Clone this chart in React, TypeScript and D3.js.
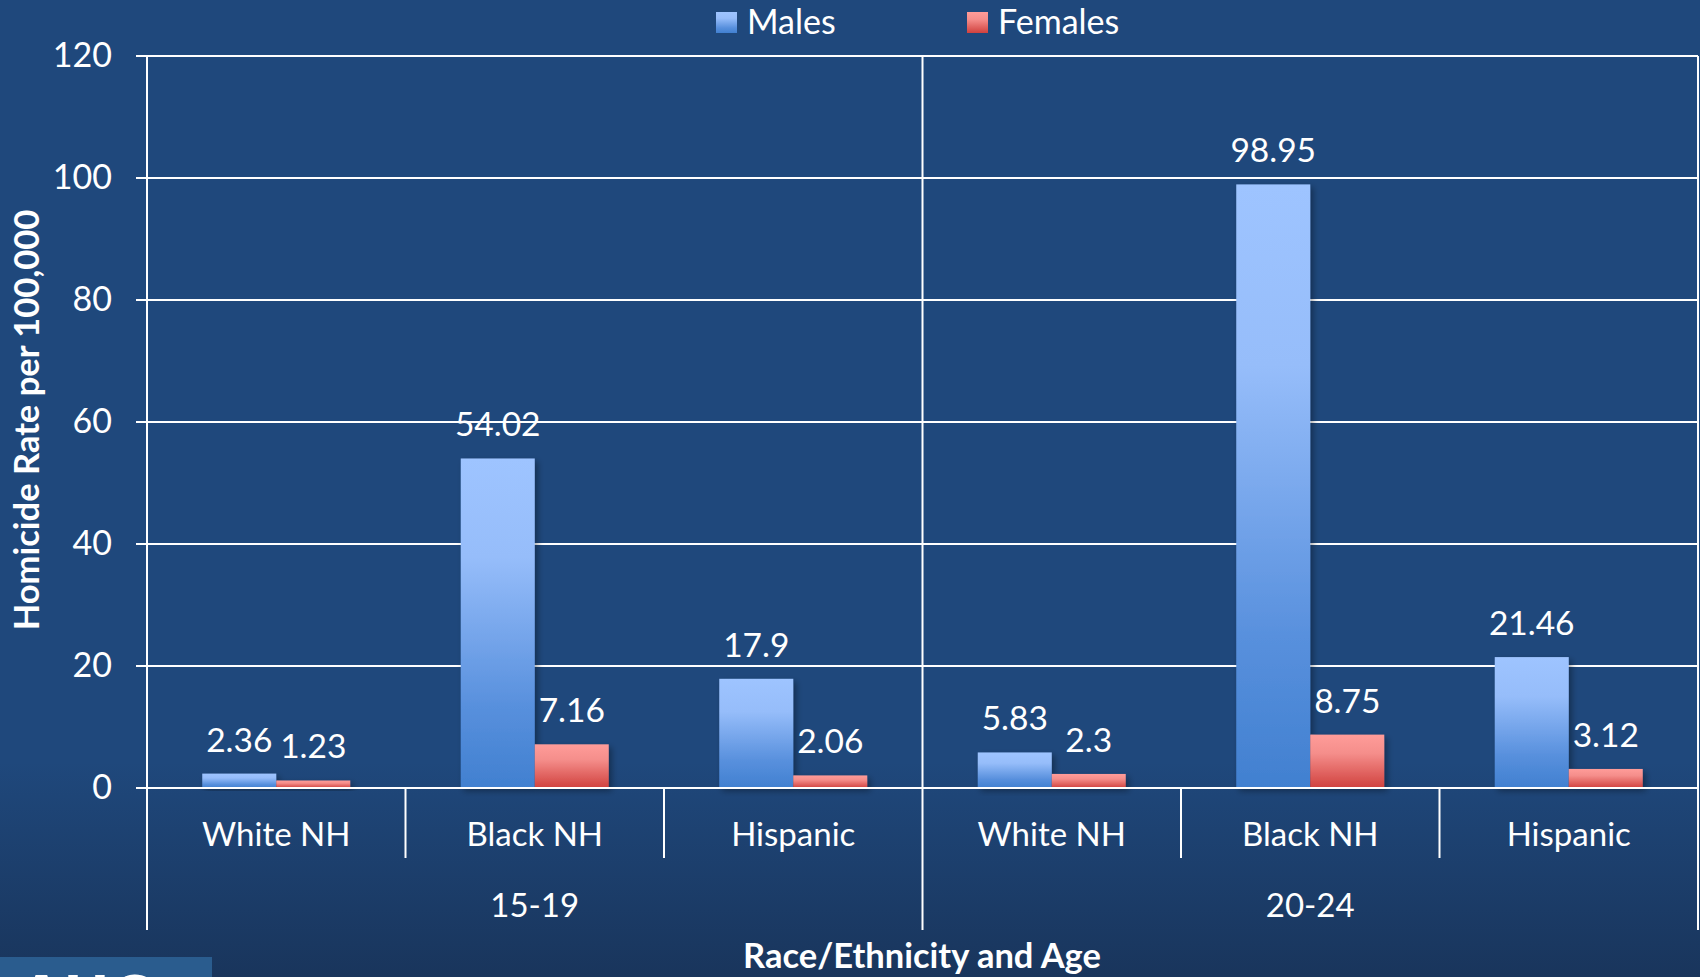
import React from "react";
import * as d3 from "d3";

// Homicide rates per 100,000 by race/ethnicity, age group and sex
const ageGroups = ["15-19", "20-24"];
const races = ["White NH", "Black NH", "Hispanic"];
const males = [2.36, 54.02, 17.9, 5.83, 98.95, 21.46];
const females = [1.23, 7.16, 2.06, 2.3, 8.75, 3.12];
const yTicks = [0, 20, 40, 60, 80, 100, 120];
const seriesNames = ["Males", "Females"];

const W = 1700;
const H = 977;
const plot = { left: 147, right: 1698, top: 56, bottom: 788 };
const FONT = "Lato, 'Open Sans', sans-serif";

export default function App() {
  const categories = ageGroups.flatMap((a) => races.map((r) => `${a}|${r}`));
  const x = d3
    .scaleBand<string>()
    .domain(categories)
    .range([plot.left, plot.right])
    .paddingInner(0.4275)
    .paddingOuter(0.21375);
  const step = x.step();
  const xs = d3.scaleBand<string>().domain(seriesNames).range([0, x.bandwidth()]);
  const y = d3.scaleLinear().domain([0, 120]).range([plot.bottom, plot.top]);

  const rows = categories.map((c, i) => ({ c, m: males[i], f: females[i] }));
  const boundaries = d3.range(categories.length + 1).map((k) => plot.left + k * step);
  const groupW = step * races.length;

  return (
    <svg
      width={W}
      height={H}
      style={{ position: "fixed", left: 0, top: 0 }}
      fontFamily={FONT}
    >
      <defs>
        <linearGradient id="bg" x1="0" y1="0" x2="0" y2="1">
          <stop offset="0" stopColor="#1F487C" />
          <stop offset="0.78" stopColor="#1F487C" />
          <stop offset="1" stopColor="#19355C" />
        </linearGradient>
        <linearGradient id="gm" x1="0" y1="0" x2="0" y2="1">
          <stop offset="0" stopColor="#9EC4FF" />
          <stop offset="0.3" stopColor="#96BDFA" />
          <stop offset="0.75" stopColor="#5890DD" />
          <stop offset="1" stopColor="#4180D0" />
        </linearGradient>
        <linearGradient id="gf" x1="0" y1="0" x2="0" y2="1">
          <stop offset="0" stopColor="#FF9C99" />
          <stop offset="0.35" stopColor="#F58E8B" />
          <stop offset="1" stopColor="#D0413E" />
        </linearGradient>
        <filter id="sh" x="-20%" y="-20%" width="140%" height="140%">
          <feDropShadow dx="3" dy="3" stdDeviation="3" floodColor="#000" floodOpacity="0.35" />
        </filter>
      </defs>

      <rect x={0} y={0} width={W} height={H} fill="url(#bg)" />

      {/* gridlines and y ticks */}
      {yTicks.map((t) => (
        <g key={t}>
          <line x1={plot.left - 11} x2={plot.right} y1={y(t)} y2={y(t)} stroke="#fff" strokeWidth={2} />
          <text x={112} y={y(t)} dy="0.33em" textAnchor="end" fill="#fff" fontSize={34}>
            {t}
          </text>
        </g>
      ))}

      {/* bars */}
      {rows.map((r) => (
        <g key={r.c} filter="url(#sh)">
          <rect
            x={x(r.c)! + xs("Males")!}
            y={y(r.m)}
            width={xs.bandwidth()}
            height={y(0) - y(r.m)}
            fill="url(#gm)"
          />
          <rect
            x={x(r.c)! + xs("Females")!}
            y={y(r.f)}
            width={xs.bandwidth()}
            height={y(0) - y(r.f)}
            fill="url(#gf)"
          />
        </g>
      ))}

      {/* zero line above bars */}
      <line x1={plot.left - 11} x2={plot.right} y1={y(0)} y2={y(0)} stroke="#fff" strokeWidth={2} />

      {/* value labels */}
      {rows.map((r) => (
        <g key={r.c + "l"} fill="#fff" fontSize={33.5} textAnchor="middle">
          <text x={x(r.c)! + xs("Males")! + xs.bandwidth() / 2} y={y(r.m) - 22}>
            {r.m}
          </text>
          <text x={x(r.c)! + xs("Females")! + xs.bandwidth() / 2} y={y(r.f) - 22}>
            {r.f}
          </text>
        </g>
      ))}

      {/* vertical axis lines and category separators */}
      {boundaries.map((bx, k) => {
        const isGroupEdge = k % races.length === 0;
        return (
          <line
            key={k}
            x1={bx}
            x2={bx}
            y1={isGroupEdge ? plot.top : plot.bottom}
            y2={isGroupEdge ? 930 : 858}
            stroke="#fff"
            strokeWidth={2}
          />
        );
      })}

      {/* category labels */}
      {categories.map((c) => (
        <text
          key={c}
          x={x(c)! + x.bandwidth() / 2}
          y={846}
          textAnchor="middle"
          fill="#fff"
          fontSize={33}
        >
          {c.split("|")[1]}
        </text>
      ))}
      {ageGroups.map((a, i) => (
        <text
          key={a}
          x={plot.left + groupW * i + groupW / 2}
          y={917}
          textAnchor="middle"
          fill="#fff"
          fontSize={33}
        >
          {a}
        </text>
      ))}

      {/* axis titles */}
      <text x={922} y={968} textAnchor="middle" fill="#fff" fontSize={34.5} fontWeight="bold">
        Race/Ethnicity and Age
      </text>
      <text
        transform="translate(39,420) rotate(-90)"
        textAnchor="middle"
        fill="#fff"
        fontSize={34.5}
        fontWeight="bold"
      >
        Homicide Rate per 100,000
      </text>

      {/* legend */}
      <g fontSize={34} fill="#fff">
        <rect x={716} y={12} width={21} height={21} fill="url(#gm)" />
        <text x={747} y={34}>Males</text>
        <rect x={967} y={12} width={21} height={21} fill="url(#gf)" />
        <text x={998} y={34}>Females</text>
      </g>

      {/* corner logo strip */}
      <rect x={0} y={957} width={212} height={20} fill="#2A5C8E" />
      <text x={20} y={1020} fill="#fff" fontSize={62} fontWeight="bold" fontFamily="'Open Sans', sans-serif">
        AHC
      </text>
    </svg>
  );
}
